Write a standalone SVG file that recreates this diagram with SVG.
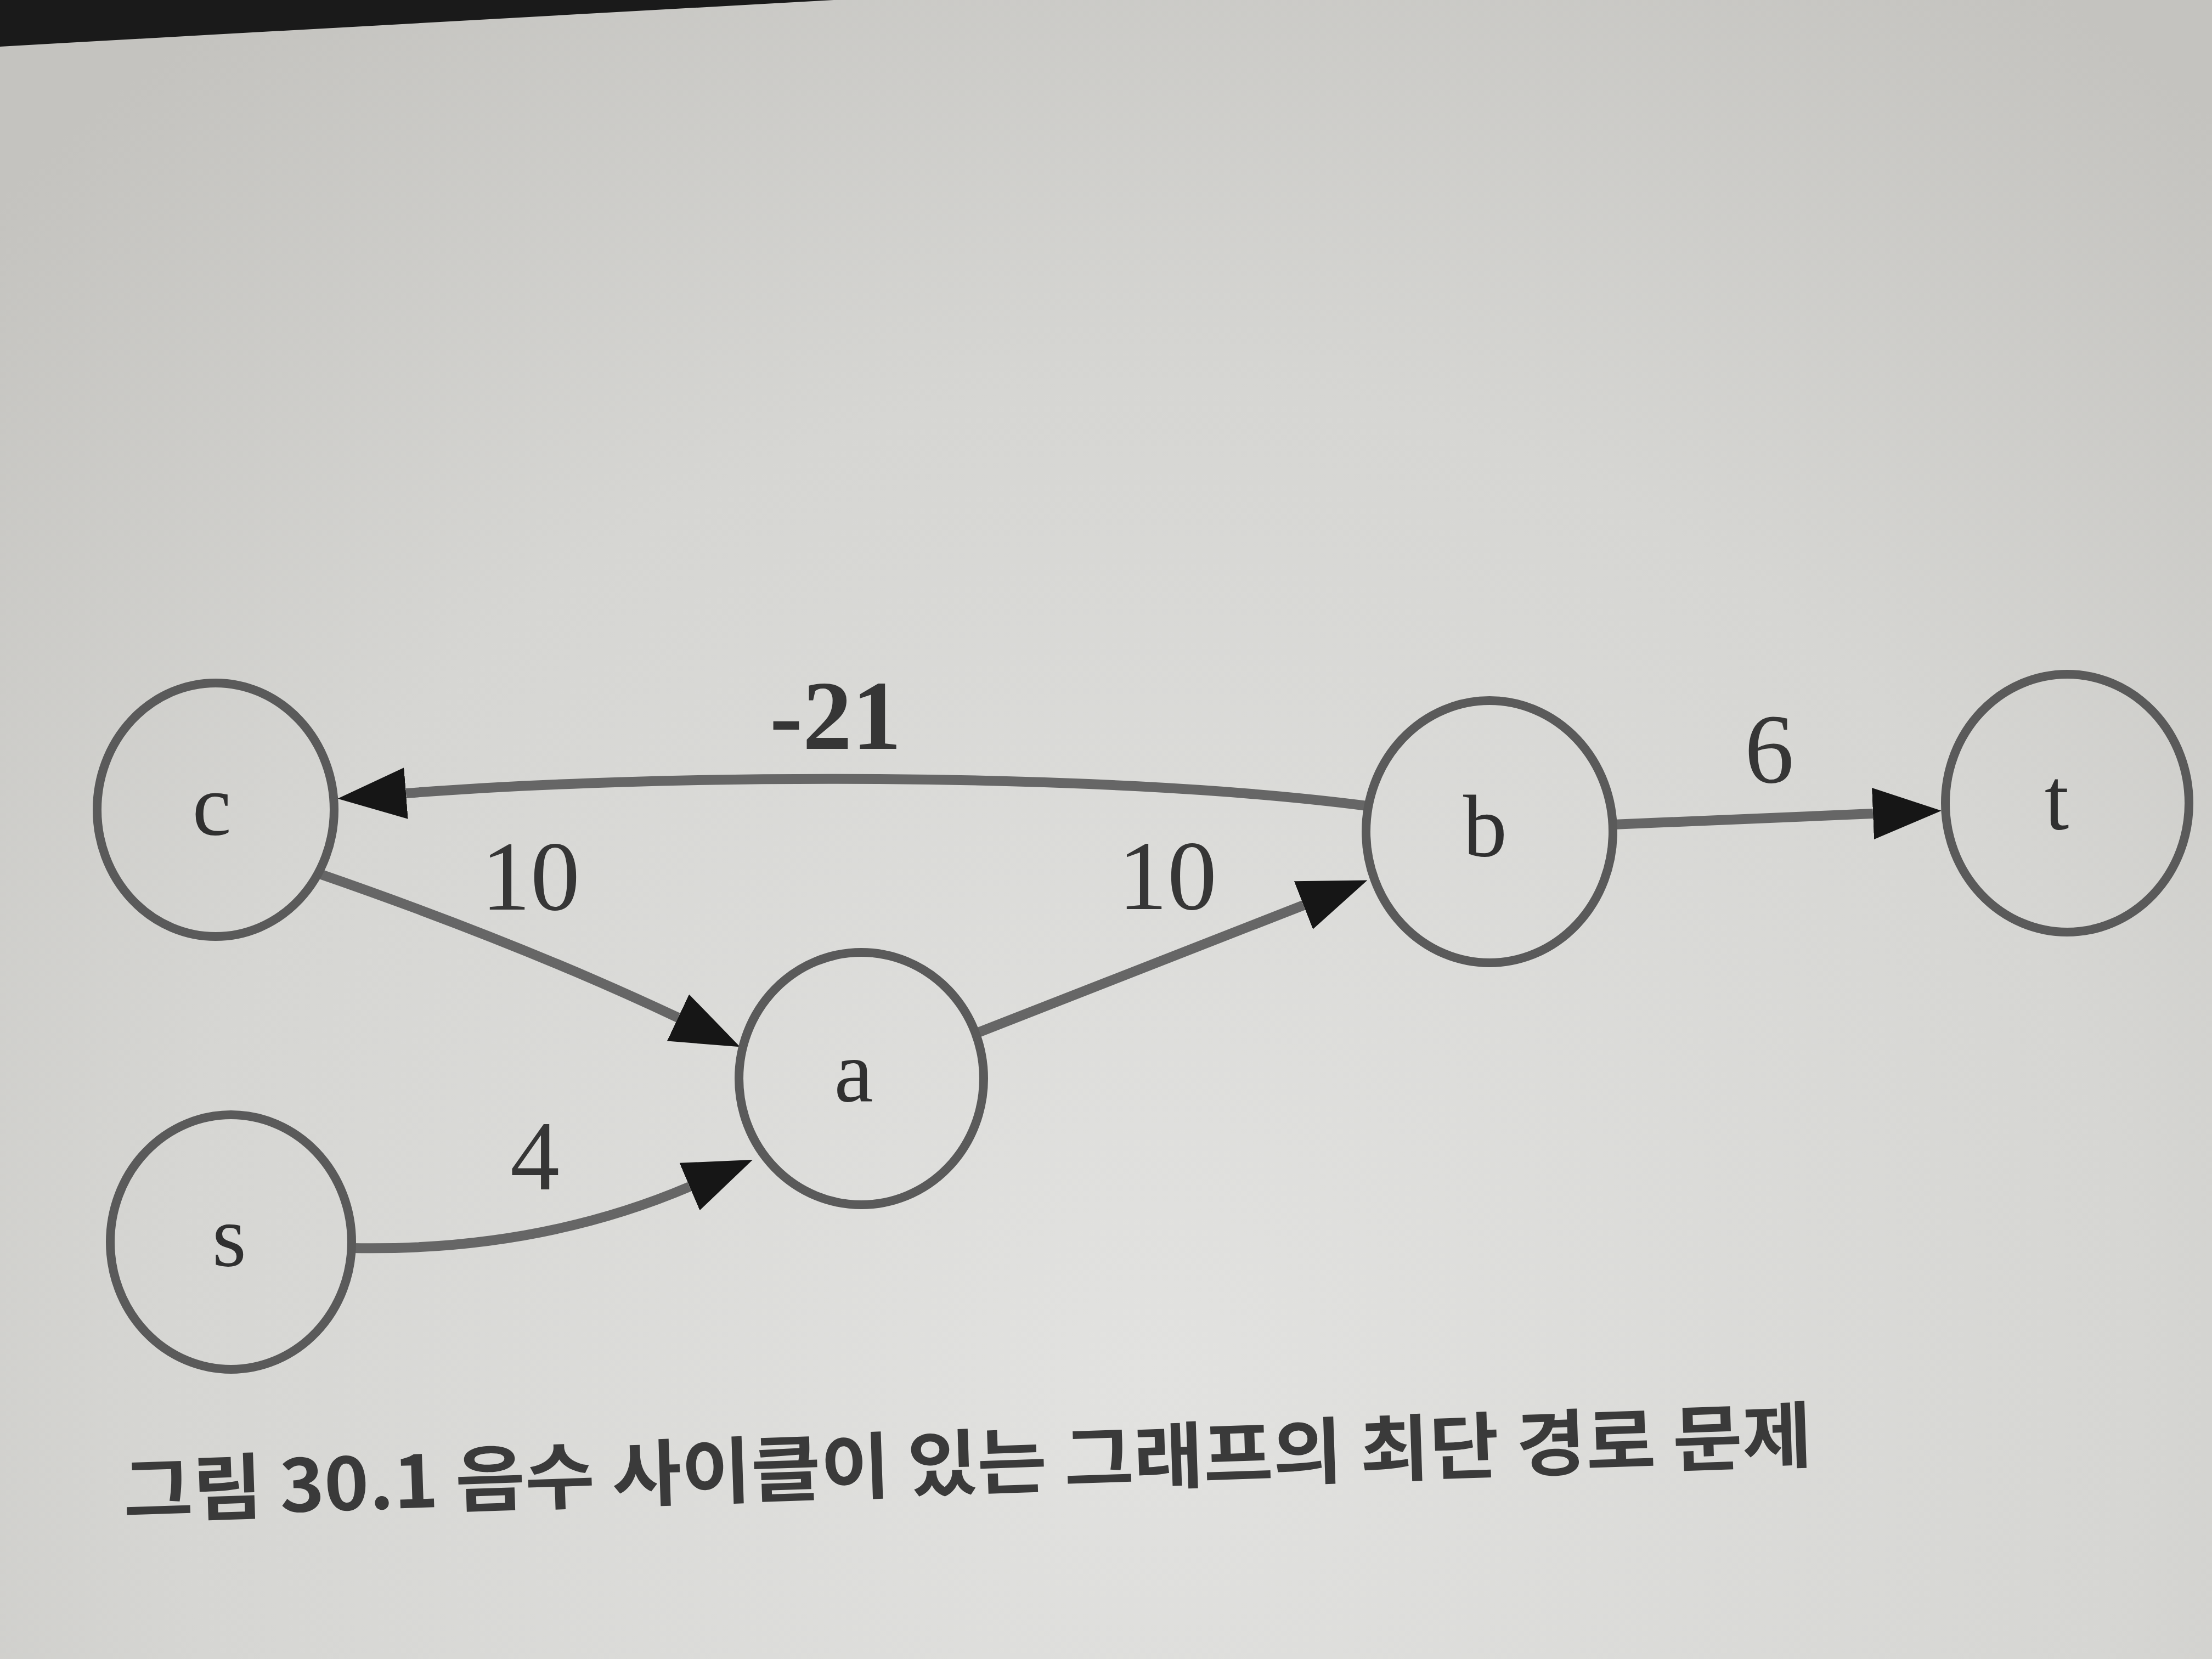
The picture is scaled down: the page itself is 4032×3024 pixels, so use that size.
<svg xmlns="http://www.w3.org/2000/svg" width="4032" height="3024" viewBox="0 0 4032 3024">
  <defs>
    <radialGradient id="paper" cx="2100" cy="2500" r="3000" gradientUnits="userSpaceOnUse">
      <stop offset="0" stop-color="#e2e2e0"/>
      <stop offset="0.6" stop-color="#d6d6d3"/>
      <stop offset="1" stop-color="#c4c3bf"/>
    </radialGradient>
    <marker id="arrow" viewBox="0 0 125 94" refX="0" refY="47" markerWidth="125" markerHeight="94" markerUnits="userSpaceOnUse" orient="auto">
      <path d="M0 0 L125 47 L0 94 Z" fill="#161616"/>
    </marker>
    <style>
      .node { fill: none; stroke: #5a5a5a; stroke-width: 16; }
      .nlabel { font-family: "Liberation Serif", "DejaVu Serif", serif; font-size: 160px; fill: #303030; text-anchor: middle; }
      .edge { fill: none; stroke: #666666; stroke-width: 18; marker-end: url(#arrow); }
      .elabel { font-family: "Liberation Serif", "DejaVu Serif", serif; font-size: 180px; fill: #363636; text-anchor: middle; }
      .caption { font-family: "Noto Sans CJK KR", "Noto Sans", sans-serif; font-size: 132px; font-weight: bold; fill: #3a3a3a; }
    </style>
  </defs>

  <rect x="0" y="0" width="4032" height="3024" fill="url(#paper)"/>
  <path d="M0 0 L1520 0 Q 800 40 0 85 Z" fill="#1a1a1a"/>

  <g id="connectors">
    <g id="edge-b-c">
      <path class="edge" d="M 2492 1469 C 2000 1405, 1195 1410, 740 1446"/>
      <text class="elabel" x="1523" y="1365" font-weight="bold">-21</text>
    </g>
    <g id="edge-c-a">
      <path class="edge" d="M 580 1592 Q 950 1720 1236 1855"/>
      <text class="elabel" x="967" y="1658">10</text>
    </g>
    <g id="edge-a-b">
      <path class="edge" d="M 1778 1884 L 2376 1650"/>
      <text class="elabel" x="2128" y="1657">10</text>
    </g>
    <g id="edge-b-t">
      <path class="edge" d="M 2940 1503 L 3414 1483"/>
      <text class="elabel" x="3225" y="1426">6</text>
    </g>
    <g id="edge-s-a">
      <path class="edge" d="M 641 2275 C 900 2280, 1100 2230, 1257 2163"/>
      <text class="elabel" x="975" y="2168">4</text>
    </g>
  </g>

  <g id="node-c">
    <ellipse class="node" cx="393" cy="1476" rx="216" ry="231"/>
    <text class="nlabel" x="386" y="1521">c</text>
  </g>
  <g id="node-a">
    <ellipse class="node" cx="1570" cy="1966" rx="223" ry="230"/>
    <text class="nlabel" x="1556" y="2007">a</text>
  </g>
  <g id="node-b">
    <ellipse class="node" cx="2715" cy="1516" rx="225" ry="239"/>
    <text class="nlabel" x="2707" y="1560">b</text>
  </g>
  <g id="node-t">
    <ellipse class="node" cx="3768" cy="1464" rx="222" ry="235"/>
    <text class="nlabel" x="3749" y="1511">t</text>
  </g>
  <g id="node-s">
    <ellipse class="node" cx="421" cy="2264" rx="220" ry="232"/>
    <text class="nlabel" x="418" y="2307">s</text>
  </g>

  <g id="caption">
    <text class="caption" x="226" y="2766" textLength="3080" lengthAdjust="spacingAndGlyphs" transform="rotate(-1.9 226 2766)">그림 30.1 음수 사이클이 있는 그래프의 최단 경로 문제</text>
  </g>
</svg>
